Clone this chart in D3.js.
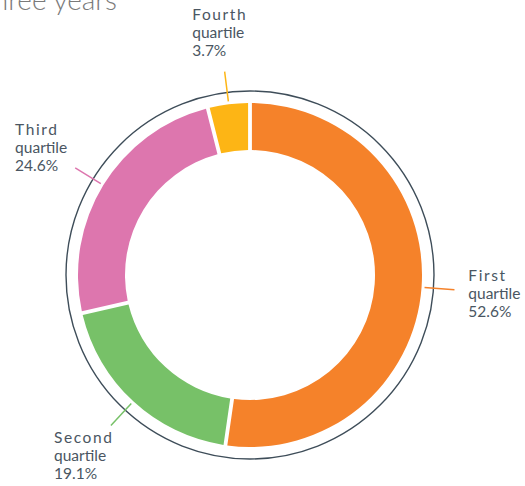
<!DOCTYPE html>
<html>
<head>
<meta charset="utf-8">
<script src="https://cdn.jsdelivr.net/npm/d3@7"></script>
<style>
  body { margin: 0; background: #fff; }
  text { font-family: Lato, "Open Sans", sans-serif; }
</style>
</head>
<body>
<div id="chart"></div>
<script>
// data
const categories = ['First', 'Second', 'Third', 'Fourth']
const shares = [52.6, 19.1, 24.6, 3.7]
const colors = ['#f5822a', '#77c168', '#dd76ae', '#fdb515']

const dms = {
    width: 525,
    height: 486,
    cx: 250,
    cy: 275,
    inner: 125,
    outer: 172,
    ring: 184
}

const svg = d3.select('#chart').append('svg')
    .attr('width', dms.width)
    .attr('height', dms.height)

// title (cut off at the top of the picture)
svg.append('text')
    .attr('x', 117)
    .attr('y', 10)
    .attr('text-anchor', 'end')
    .attr('fill', '#7a7a7a')
    .style('font-size', '28px')
    .style('font-weight', 300)
    .text('three years')

const g = svg.append('g')
    .attr('transform', `translate(${dms.cx}, ${dms.cy})`)

const pie = d3.pie().sort(null).value(d => d).padAngle(0.018)
const arcs = pie(shares)

const arc = d3.arc()
    .innerRadius(dms.inner)
    .outerRadius(dms.outer)

// outer thin ring
g.append('circle')
    .attr('r', dms.ring)
    .attr('fill', 'none')
    .attr('stroke', '#3e4d59')
    .attr('stroke-width', 1.4)

g.selectAll('.slice')
    .data(arcs)
    .enter()
    .append('path')
    .attr('class', 'slice')
    .attr('d', arc)
    .attr('fill', (d, i) => colors[i])

const mid = d => (d.startAngle + d.endAngle) / 2
const pt = (a, r) => [Math.sin(a) * r, -Math.cos(a) * r]

// leader lines
g.selectAll('.leader')
    .data(arcs)
    .enter()
    .append('line')
    .attr('class', 'leader')
    .attr('x1', d => pt(mid(d), 175)[0])
    .attr('y1', d => pt(mid(d), 175)[1])
    .attr('x2', d => pt(mid(d), 205)[0])
    .attr('y2', d => pt(mid(d), 205)[1])
    .attr('stroke', (d, i) => colors[i])
    .attr('stroke-width', 1.5)

// labels, block centred on a point beyond the leader line
const labels = g.selectAll('.label')
    .data(arcs)
    .enter()
    .append('text')
    .attr('class', 'label')
    .attr('fill', '#4a5662')
    .style('font-size', '15.5px')

labels.each(function (d, i) {
    const t = d3.select(this)
    t.append('tspan').attr('x', 0).attr('dy', 0)
        .style('letter-spacing', '1.6px').text(categories[i])
    t.append('tspan').attr('x', 0).attr('dy', 18).text('quartile')
    t.append('tspan').attr('x', 0).attr('dy', 18).text(shares[i].toFixed(1) + '%')
    const bb = this.getBBox()
    const [px, py] = pt(mid(d), 245)
    t.attr('transform', `translate(${px - bb.width / 2 - bb.x}, ${py - bb.height / 2 - bb.y})`)
})
</script>
</body>
</html>
